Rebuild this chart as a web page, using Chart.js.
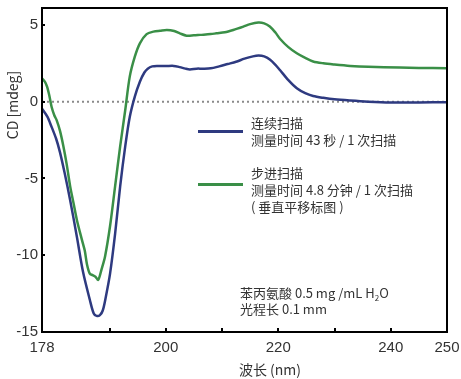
<!DOCTYPE html>
<html>
<head>
<meta charset="utf-8">
<script src="https://cdn.jsdelivr.net/npm/chart.js@4/dist/chart.umd.min.js"></script>
<style>
  body { margin: 0; background: #fff; }
  #wrap { width: 461px; height: 379px; position: relative; }
</style>
</head>
<body>
<div id="wrap"><canvas id="cd"></canvas></div>
<script>
// wavelength (nm) / CD (mdeg)
const contWave = [178, 179, 179.5, 180.5, 181.2, 182, 183, 184.2, 185.3, 186.5, 187.2, 187.7, 188.3, 188.8, 189.3, 190.1, 191, 191.9, 192.8, 193.6, 194.5, 195.4, 196.2, 196.8, 197.6, 198.5, 200, 201.4, 202.5, 203.5, 204.3, 205.5, 206.5, 208, 209.5, 211, 212.5, 214, 215.5, 216.5, 217.5, 218.5, 219.5, 220.3, 221.8, 223.3, 224.8, 226.2, 228, 230, 232.8, 236, 240, 245, 250];
const contCD = [-0.45, -1.0, -1.45, -2.4, -3.3, -4.6, -6.4, -8.8, -11.1, -12.9, -13.8, -13.95, -13.9, -13.6, -12.8, -11.2, -8.6, -5.5, -2.9, -1.0, 0.33, 1.3, 1.9, 2.15, 2.3, 2.33, 2.32, 2.33, 2.25, 2.15, 2.1, 2.15, 2.15, 2.17, 2.3, 2.45, 2.6, 2.8, 2.95, 3.0, 2.95, 2.75, 2.4, 2.06, 1.4, 0.87, 0.55, 0.37, 0.25, 0.15, 0.07, 0.0, -0.05, -0.05, -0.04];

const stepWave = [178, 178.5, 178.9, 179.3, 179.7, 180.2, 180.6, 181.2, 181.8, 182.4, 183, 183.6, 184.2, 185.1, 185.6, 186, 186.5, 187, 187.5, 188, 188.6, 189.2, 190.1, 191, 191.9, 192.8, 193.6, 194.5, 195.4, 196.6, 197.8, 199, 200.2, 201.5, 202.5, 203.7, 205, 206.1, 208, 209, 210.5, 212, 213.8, 215, 216.45, 217.5, 218.5, 219.5, 220.3, 221.8, 223.3, 224.8, 226.2, 228, 230, 232.8, 236, 241.6, 245, 250];
const stepCD = [1.52, 1.3, 0.98, 0.4, -0.33, -0.9, -1.2, -1.9, -2.9, -4.1, -5.5, -6.6, -7.7, -9.0, -9.7, -10.6, -11.2, -11.3, -11.4, -11.6, -10.9, -10.1, -8.1, -5.5, -2.9, -0.54, 1.63, 2.93, 3.8, 4.4, 4.56, 4.62, 4.67, 4.6, 4.45, 4.3, 4.32, 4.35, 4.4, 4.45, 4.52, 4.67, 4.89, 5.05, 5.15, 5.1, 4.9, 4.5, 4.1, 3.55, 3.15, 2.85, 2.62, 2.5, 2.42, 2.33, 2.27, 2.22, 2.2, 2.18];

const xTickValues = [178, 190, 200, 210, 220, 230, 240, 250];
const xTickLabels = [178, 200, 220, 240, 250];
const yTickValues = [-15, -10, -5, 0, 5];

const BLUE = "#2e3a80";
const GREEN = "#3a8f47";
const TEXT = "#333";

function toPoints(xs, ys) {
  return xs.map((x, i) => ({ x: x, y: ys[i] }));
}

// frame, inward ticks, zero line, legend and notes
const decorations = {
  id: "decorations",
  beforeDatasetsDraw(chart) {
    const { ctx, chartArea: a, scales } = chart;
    const y0 = scales.y.getPixelForValue(0);
    ctx.save();
    ctx.strokeStyle = "#8a8a8a";
    ctx.lineWidth = 2;
    ctx.setLineDash([2, 3]);
    ctx.beginPath();
    ctx.moveTo(a.left, y0);
    ctx.lineTo(a.right, y0);
    ctx.stroke();
    ctx.restore();
  },
  afterDraw(chart) {
    const { ctx, chartArea: a, scales } = chart;
    ctx.save();
    ctx.strokeStyle = "#000";
    ctx.lineWidth = 2;
    ctx.strokeRect(a.left, a.top, a.right - a.left, a.bottom - a.top);

    ctx.beginPath();
    xTickValues.forEach((v) => {
      const px = Math.round(scales.x.getPixelForValue(v));
      ctx.moveTo(px, a.bottom);
      ctx.lineTo(px, a.bottom - 4);
    });
    yTickValues.forEach((v) => {
      const py = Math.round(scales.y.getPixelForValue(v));
      ctx.moveTo(a.left, py);
      ctx.lineTo(a.left + 3, py);
    });
    ctx.stroke();

    // legend
    ctx.lineWidth = 3;
    ctx.strokeStyle = BLUE;
    ctx.beginPath();
    ctx.moveTo(198, 131.5);
    ctx.lineTo(243, 131.5);
    ctx.stroke();
    ctx.strokeStyle = GREEN;
    ctx.beginPath();
    ctx.moveTo(198, 184.5);
    ctx.lineTo(243, 184.5);
    ctx.stroke();

    const cjk = '"Noto Sans CJK SC", "Liberation Sans", sans-serif';
    ctx.fillStyle = TEXT;
    ctx.font = "13px " + cjk;
    ctx.textAlign = "left";
    ctx.textBaseline = "middle";
    ctx.fillText("连续扫描", 251, 123);
    ctx.fillText("测量时间 43 秒 / 1 次扫描", 251, 140);
    ctx.fillText("步进扫描", 251, 173);
    ctx.fillText("测量时间 4.8 分钟 / 1 次扫描", 251, 190);
    ctx.fillText("( 垂直平移标图 )", 251, 207);

    // sample notes
    ctx.fillText("苯丙氨酸 0.5 mg /mL H", 240, 293);
    const w = ctx.measureText("苯丙氨酸 0.5 mg /mL H").width;
    ctx.font = "8px " + cjk;
    ctx.fillText("2", 240 + w, 298);
    const w2 = ctx.measureText("2").width;
    ctx.font = "13px " + cjk;
    ctx.fillText("O", 240 + w + w2, 293);
    ctx.fillText("光程长 0.1 mm", 240, 309);

    // axis titles
    ctx.font = "14px " + cjk;
    ctx.textAlign = "center";
    ctx.fillText("波长 (nm)", 270, 370);
    ctx.translate(13, 105);
    ctx.rotate(-Math.PI / 2);
    ctx.fillText("CD [mdeg]", 0, 0);
    ctx.restore();
  },
};

new Chart(document.getElementById("cd"), {
  type: "line",
  data: {
    datasets: [
      {
        label: "步进扫描",
        data: toPoints(stepWave, stepCD),
        borderColor: GREEN,
        borderWidth: 2.5,
        pointRadius: 0,
        tension: 0.3,
        fill: false,
      },
      {
        label: "连续扫描",
        data: toPoints(contWave, contCD),
        borderColor: BLUE,
        borderWidth: 2.5,
        pointRadius: 0,
        tension: 0.3,
        fill: false,
      },
    ],
  },
  options: {
    responsive: true,
    maintainAspectRatio: false,
    animation: false,
    layout: { padding: 0 },
    plugins: { legend: { display: false }, tooltip: { enabled: false } },
    scales: {
      x: {
        type: "linear",
        min: 178,
        max: 250,
        grid: { display: false, drawTicks: false },
        border: { display: false },
        afterBuildTicks: (axis) => {
          axis.ticks = xTickValues.map((v) => ({ value: v }));
        },
        afterFit: (axis) => {
          axis.height = 379 - 332;
          axis.paddingLeft = 0;
          axis.paddingRight = 14;
        },
        ticks: {
          autoSkip: false,
          maxRotation: 0,
          padding: 7,
          color: TEXT,
          font: { family: '"Liberation Sans", Arial, sans-serif', size: 15 },
          callback: (v) => (xTickLabels.includes(v) ? String(v) : ""),
        },
      },
      y: {
        min: -15,
        max: 6.1,
        grid: { display: false, drawTicks: false },
        border: { display: false },
        afterBuildTicks: (axis) => {
          axis.ticks = yTickValues.map((v) => ({ value: v }));
        },
        afterFit: (axis) => {
          axis.width = 42;
          axis.paddingTop = 8;
          axis.paddingBottom = 0;
        },
        ticks: {
          padding: 4,
          color: TEXT,
          font: { family: '"Liberation Sans", Arial, sans-serif', size: 15 },
        },
      },
    },
  },
  plugins: [decorations],
});
</script>
</body>
</html>
